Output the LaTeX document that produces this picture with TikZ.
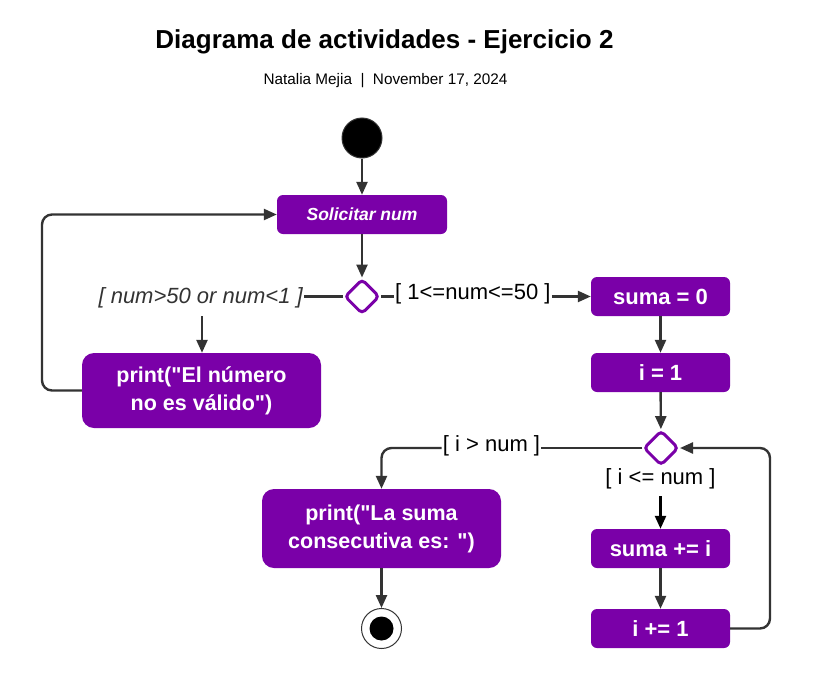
\documentclass[tikz,border=0pt]{standalone}
\usepackage{fontspec}
\setmainfont{Liberation Sans}
\newfontfamily\qfont{Liberation Sans}
\usetikzlibrary{shapes.geometric,arrows.meta}
\definecolor{actpurple}{RGB}{122,0,168}
\definecolor{linegray}{RGB}{51,51,51}
\newcommand\dq{{\qfont"}}
\begin{document}
\begin{tikzpicture}[x=1pt,y=-1pt,
  act/.style={fill=actpurple,draw=none,rounded corners=6pt,text=white,font=\bfseries\fontsize{22}{25}\selectfont,align=center,inner sep=0pt},
  bigact/.style={act,rounded corners=12pt,font=\bfseries\fontsize{21.5}{28}\selectfont},
  decis/.style={diamond,draw=actpurple,line width=3pt,fill=white,minimum width=35pt,minimum height=35pt,inner sep=0pt,rounded corners=4pt},
  flow/.style={draw=linegray,line width=2.4pt,-{Triangle[length=13pt,width=11pt]},rounded corners=10pt},
  plain/.style={draw=linegray,line width=2.4pt},
  guard/.style={font=\fontsize{22}{25}\selectfont,inner sep=1pt},
]
\useasboundingbox (0,0) rectangle (824,688);
\fill[white] (0,0) rectangle (824,688);
\node[font=\bfseries\fontsize{26}{30}\selectfont] (title) at (384.5,42) {Diagrama de actividades - Ejercicio 2};
\node[font=\fontsize{15.3}{18}\selectfont] (sub) at (385.5,81) {Natalia Mejia \ |\ \ November 17, 2024};

\node[circle,fill=black,draw=linegray,line width=1pt,minimum size=40pt,inner sep=0pt] (start) at (362,138) {};
\node[act,minimum width=170pt,minimum height=39pt,font=\bfseries\itshape\fontsize{17.5}{20}\selectfont] (sol) at (362,214.5) {Solicitar num};
\node[decis] (d1) at (362,296.5) {};
\node[guard,anchor=east,text=linegray,font=\itshape\fontsize{22}{25}\selectfont] (gl) at (304,298) {[ num>50 or num<1 ]};
\coordinate (glb) at (202,316);
\node[bigact,minimum width=239pt,minimum height=75pt] (pe) at (201.5,390.5) {print(\dq El número\\no es válido\dq)};
\node[guard,anchor=west] (gr) at (394,294) {[ 1<=num<=50 ]};
\node[act,minimum width=139pt,minimum height=39pt] (s0) at (660.5,296.5) {suma = 0};
\node[act,minimum width=139pt,minimum height=39pt] (i1) at (660.5,372.5) {i = 1};
\node[decis] (d2) at (661,448) {};
\node[guard] (gg) at (491.5,446) {[ i > num ]};
\node[guard] (gle) at (660.5,479) {[ i <= num ]};
\node[act,minimum width=139pt,minimum height=39pt] (si) at (660.5,548.5) {suma += i};
\node[act,minimum width=139pt,minimum height=39pt] (ii) at (660.5,628.5) {i += 1};
\node[bigact,minimum width=239pt,minimum height=79pt] (pl) at (381.5,528.5) {print(\dq La suma\\consecutiva es: \dq)};
\node[circle,draw=linegray,line width=1pt,minimum size=40pt,inner sep=0pt] (end) at (381.5,628.5) {};
\node[circle,fill=black,minimum size=24pt,inner sep=0pt] (endin) at (end) {};

\draw[flow] (start) -- (sol);
\draw[flow] (sol) -- (d1);
\draw[plain] (d1.west) -- (d1.west -| gl.east);
\draw[flow] (glb) -- (pe.north -| glb);
\draw[flow] (pe.west) -- (42,390.5) -- (42,214.5) -- (sol.west);
\draw[plain] (d1.east) -- (d1.east -| gr.west);
\draw[flow] (d1.east -| gr.east) -- (s0.west);
\draw[flow] (s0) -- (i1);
\draw[flow] (i1) -- (d2);
\draw[plain] (d2.west) -- (d2.west -| gg.east);
\draw[flow] (d2.west -| gg.west) -- (d2.west -| pl.north) -- (pl.north);
\coordinate (gleb) at (660.5,496);
\draw[flow,draw=black] (gleb) -- (si.north);
\draw[flow] (si) -- (ii);
\draw[flow] (ii.east) -- (770,628.5) -- (770,448) -- (d2.east);
\draw[flow] (pl) -- (end);
\end{tikzpicture}
\end{document}
